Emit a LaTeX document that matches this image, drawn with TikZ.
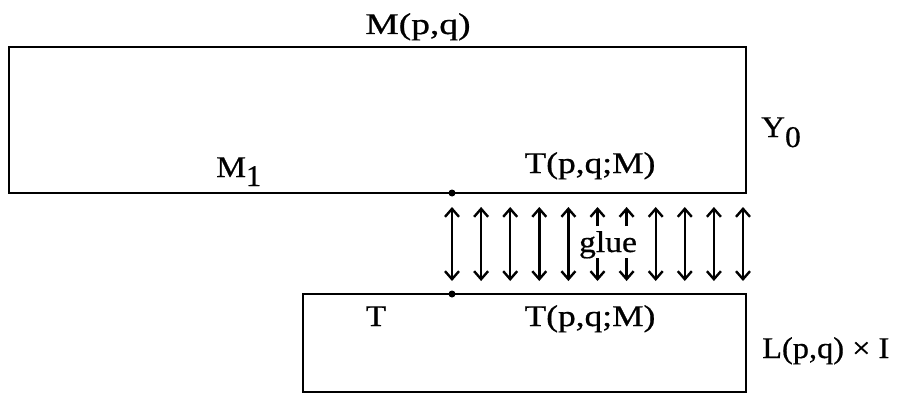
\documentclass[tikz,border=0pt]{standalone}
\usepackage{fontspec}
\usepackage{graphicx}
\setmainfont{Liberation Serif}[FakeBold=0.6]
\usetikzlibrary{arrows.meta}
\tikzset{
  lbl/.style={inner sep=0pt, anchor=base},
  boxline/.style={line width=2.4pt},
  gluearrow/.style={line width=2.4pt, {Straight Barb[length=8pt,width=14pt,line width=2.4pt]}-{Straight Barb[length=8pt,width=14pt,line width=2.4pt]}},
  halfarrow/.style={line width=2.4pt, -{Straight Barb[length=8pt,width=14pt,line width=2.4pt]}},
  junction/.style={circle, fill=black, inner sep=0pt, minimum size=7pt}
}
% \lab{size}{xscale}{text}
\newcommand{\lab}[3]{{\fontsize{#1}{#1}\selectfont\scalebox{#2}[1]{#3}}}
\newcommand{\lowsub}[2]{\raisebox{-#1pt}{#2}}
\begin{document}
\begin{tikzpicture}[x=1pt,y=-1pt]
\useasboundingbox (0,0) rectangle (902,396);
% boxes
\draw[boxline] (9,47) rectangle (746,193);
\draw[boxline] (303,294) rectangle (746,392);
\node[junction] (dtop) at (452,193) {};
\node[junction] (dbot) at (452,294) {};
% labels
\node[lbl] (mpq) at (418,34) {\lab{30}{1.25}{M(p,q)}};
\node[lbl, anchor=base west] (y0) at (761,137) {\lab{30}{1.1}{Y}\lab{30}{1.05}{\lowsub{10}{0}}};
\node[lbl, anchor=base west] (m1) at (216,177) {\lab{30}{1.12}{M}\lab{30}{1.0}{\lowsub{9}{1}}};
\node[lbl] (tpq1) at (590,173) {\lab{30}{1.18}{T(p,q;M)}};
\node[lbl] (t) at (376,326) {\lab{30}{1.1}{T}};
\node[lbl] (tpq2) at (590,326) {\lab{30}{1.18}{T(p,q;M)}};
\node[lbl, anchor=base west] (lpq) at (762,358) {\lab{30}{1.08}{L(p,q) × I}};
\node[lbl] (glue) at (608,252) {\lab{30}{1.12}{glue}};
% arrows
\foreach \i in {0,1,2,3,4,7,8,9,10}{
  \coordinate (a\i) at (452+29.1*\i,207);
  \coordinate (b\i) at (452+29.1*\i,281);
  \draw[gluearrow] (a\i) -- (b\i);
}
\foreach \i in {5,6}{
  \coordinate (a\i) at (452+29.1*\i,207);
  \coordinate (c\i) at (452+29.1*\i,226);
  \coordinate (d\i) at (452+29.1*\i,258);
  \coordinate (b\i) at (452+29.1*\i,281);
  \draw[halfarrow] (c\i) -- (a\i);
  \draw[halfarrow] (d\i) -- (b\i);
}
\end{tikzpicture}
\end{document}
